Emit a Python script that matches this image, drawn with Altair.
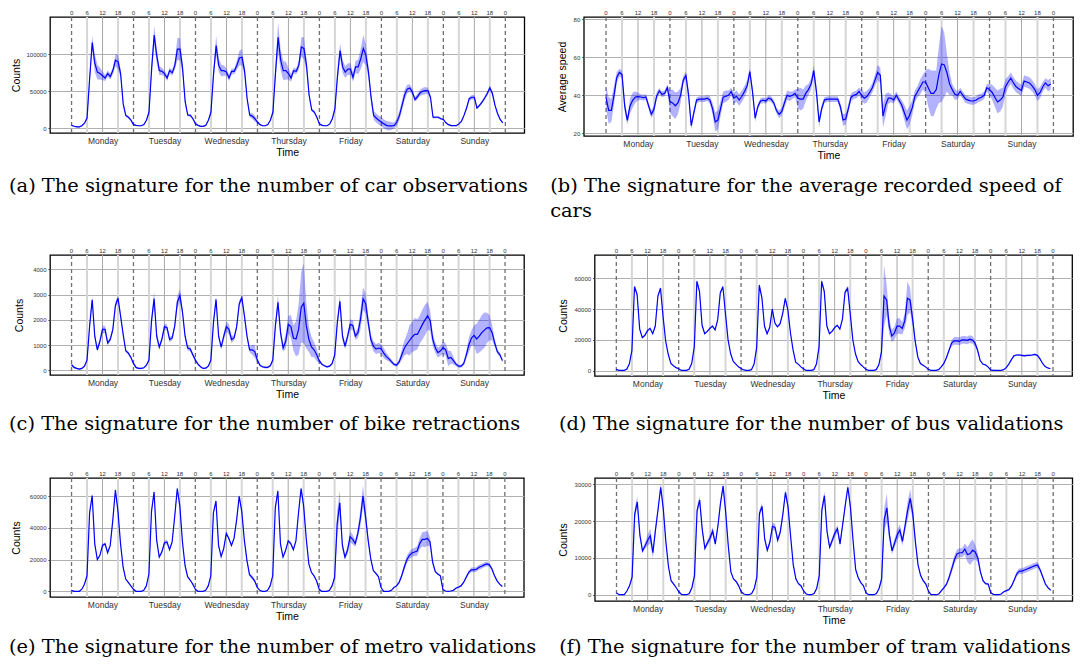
import altair as alt
import pandas as pd

DAYS = ["Monday", "Tuesday", "Wednesday", "Thursday", "Friday", "Saturday", "Sunday"]
HOURS = list(range(168))
HOUR_TICKS = list(range(0, 169, 6))
HOUR_LABELS = [str(h % 24) for h in HOUR_TICKS]
DAY_CENTERS = [12 + 24 * d for d in range(7)]
DAY_BOUNDS = [24 * d for d in range(8)]
LIGHT_HOURS = [24 * d + h for d in range(7) for h in (6, 18)]
MID_HOURS = [24 * d + 12 for d in range(7)]

car_counts = [
    4000, 2800, 2000, 2000, 3500, 7000, 14000, 67000, 116000, 88000, 76000, 74000, 71000, 68000, 74000, 70000, 78000, 92000, 90000, 74000, 33000, 17500, 15000, 11000,
    5000, 4000, 3500, 3500, 5000, 11000, 22000, 80000, 126000, 98000, 78000, 77000, 74000, 68000, 78000, 75000, 85000, 107000, 107000, 81000, 36000, 18000, 17500, 13000,
    6000, 4000, 2700, 2700, 4000, 11000, 22000, 74000, 112000, 85000, 78000, 78000, 76000, 68000, 77000, 77000, 85000, 95000, 96000, 78000, 40000, 18000, 16500, 13000,
    8500, 5000, 3500, 3500, 5000, 11000, 22000, 76000, 123000, 92000, 78000, 78000, 74000, 68000, 78000, 77000, 85000, 110000, 108000, 85000, 45000, 25000, 22000, 15000,
    6000, 4000, 3500, 3500, 6000, 13000, 26500, 71000, 105000, 83000, 76000, 80000, 80000, 69000, 83000, 83000, 94000, 108000, 99000, 76000, 42000, 17500, 14000, 11000,
    8500, 6000, 4000, 3200, 3200, 4000, 8500, 17500, 31000, 45000, 53000, 54500, 49000, 39000, 43000, 48000, 50000, 51000, 51000, 42000, 15000, 15000, 15000, 13000,
    12000, 7500, 5000, 3600, 3600, 3600, 6000, 9500, 17500, 27500, 40000, 42000, 42000, 27500, 31000, 35500, 41000, 47000, 54500, 47000, 31000, 20000, 12000, 7500,
]
car_band = [
    800, 800, 800, 800, 800, 1000, 2000, 6000, 9000, 12000, 10000, 8000, 6000, 4000, 4000, 4000, 5000, 8000, 10000, 6000, 3000, 2000, 1500, 1500,
    1000, 800, 800, 800, 800, 1000, 3000, 8000, 13000, 10000, 6000, 5000, 4000, 4000, 4000, 4000, 6000, 15000, 15000, 8000, 3000, 2000, 1500, 1500,
    1500, 800, 800, 800, 800, 1000, 3000, 8000, 13000, 9000, 8000, 7000, 5000, 4000, 4000, 4000, 6000, 10000, 11000, 6000, 3000, 3000, 4000, 4000,
    2000, 1000, 800, 800, 800, 1000, 3000, 10000, 20000, 14000, 13000, 12000, 8000, 5000, 4000, 4000, 6000, 13000, 15000, 8000, 3000, 2000, 2000, 1500,
    1000, 800, 800, 800, 800, 1000, 3000, 9000, 10000, 9000, 8000, 8000, 8000, 6000, 8000, 10000, 14000, 18000, 14000, 8000, 6000, 6000, 6000, 6000,
    6000, 6000, 6000, 6000, 5000, 4000, 5000, 6000, 7000, 7000, 6000, 5000, 4000, 3000, 4000, 4000, 5000, 5000, 4000, 3000, 2000, 1500, 1500, 1500,
    1500, 1000, 800, 800, 800, 800, 1000, 1000, 1500, 2000, 2500, 3000, 3000, 2000, 2000, 2000, 2500, 3000, 3500, 3000, 2000, 1500, 1000, 1000,
]

speed_values = [
    38.8, 32.1, 32.1, 40, 49.3, 52, 51, 34.4, 26.8, 34.4, 37.4, 39.1, 39.3, 39.1, 38.8, 39.1, 34.4, 30, 32.6, 39.6, 42.3, 40.5, 41, 44,
    36.7, 36, 34.5, 36, 40, 48, 50.5, 40, 24, 31, 37.5, 38, 38, 38, 38.5, 37.5, 33, 26, 27, 33, 39, 39.5, 40, 42,
    38.5, 39.5, 37.5, 39.5, 42, 45, 52.5, 42, 28, 34, 37, 37.5, 37, 38.5, 38, 36, 32, 30, 31.5, 36, 40, 39.5, 40, 41,
    38.5, 38, 38, 41, 43, 46, 53, 42, 26, 33, 37.5, 38, 38, 38, 38, 38, 34, 27, 27.5, 33, 39, 40, 40.5, 42,
    40, 38.5, 39.5, 41.5, 44, 48, 52, 50.5, 29, 35, 38.5, 38.5, 37.5, 40, 37.5, 35, 31, 27, 29.5, 33.5, 39.5, 42, 44.5, 47,
    47, 44, 41, 41, 43, 51, 56.5, 56, 52, 46, 43, 40.5, 40, 42, 40, 38, 37.5, 37, 37, 37.5, 38.5, 39, 40, 44,
    43, 41.5, 39, 36.5, 37.5, 39, 44.5, 47, 49, 46.5, 44.5, 43.5, 42.5, 47.5, 47, 46.5, 45, 43, 40, 41.5, 44.5, 46.5, 45, 46,
]
speed_band = [
    6, 7, 6, 5, 3, 2, 2, 3, 2, 4, 4, 3, 2, 1.5, 1.5, 1.5, 1.5, 2, 2, 2, 1.5, 1.5, 1.5, 1.5,
    6, 7, 7, 6, 4, 2, 2, 3, 2, 2, 1.5, 1.5, 1.5, 1.5, 1.5, 2, 3, 5, 5, 4, 3, 3, 2.5, 2,
    3, 3, 3, 3, 3, 3, 2, 2.5, 2, 1.5, 1.5, 1.5, 1.5, 1.5, 1.5, 1.5, 1.5, 2, 2, 2.5, 2.5, 2.5, 2, 2,
    5, 6, 5, 4, 3, 3, 3, 3, 3, 2, 1.5, 1.5, 1.5, 1.5, 1.5, 1.5, 2, 3, 3, 2.5, 2, 2, 2, 2,
    3, 3, 3, 2.5, 2.5, 3, 4, 4, 6, 6, 3, 2, 2, 2, 2, 2.5, 4, 5, 5, 4, 3, 3, 4, 4,
    6, 10, 12, 12, 10, 15, 20, 17, 10, 6, 3, 3, 2, 2, 2, 2, 2, 2, 2, 2, 2, 2, 2, 2,
    3, 4, 5, 6, 6, 5, 4, 3, 3, 3, 3, 3, 3, 3, 3, 3, 3, 3, 3, 3, 2.5, 2.5, 3, 3,
]

bike_counts = [
    215, 110, 70, 40, 70, 160, 400, 1750, 2800, 1350, 810, 1150, 1620, 1620, 1080, 1220, 1620, 2570, 2860, 2160, 1420, 770, 680, 510,
    270, 110, 70, 70, 95, 200, 400, 1960, 2840, 1350, 920, 1220, 1730, 1690, 1220, 1280, 1760, 2700, 2970, 2300, 1350, 880, 840, 610,
    400, 240, 135, 70, 80, 160, 400, 1890, 2810, 1350, 920, 1350, 1730, 1620, 1220, 1280, 1730, 2640, 2880, 2160, 1350, 810, 810, 740,
    400, 200, 135, 110, 110, 175, 400, 1760, 2700, 1490, 880, 1150, 1820, 1730, 1280, 1240, 1620, 2500, 2660, 1760, 1220, 920, 810, 610,
    380, 240, 175, 135, 160, 270, 610, 1890, 2740, 1350, 950, 1350, 1820, 1780, 1350, 1490, 2030, 2840, 2640, 1890, 1220, 950, 840, 880,
    840, 680, 540, 450, 340, 230, 200, 340, 610, 880, 1040, 1180, 1320, 1420, 1420, 1620, 1820, 2000, 2160, 1960, 1220, 880, 700, 770,
    900, 810, 470, 510, 380, 240, 160, 160, 270, 610, 1010, 1280, 1380, 1240, 1350, 1490, 1590, 1680, 1690, 1490, 1080, 740, 610, 380,
]
bike_band = [
    60, 40, 30, 30, 30, 40, 60, 100, 120, 100, 80, 100, 150, 150, 100, 80, 100, 120, 120, 100, 80, 60, 60, 50,
    60, 40, 30, 30, 30, 40, 60, 150, 300, 150, 100, 100, 120, 120, 100, 100, 120, 250, 250, 150, 100, 100, 100, 80,
    60, 40, 30, 30, 30, 40, 60, 100, 120, 100, 100, 150, 200, 200, 150, 100, 100, 120, 120, 100, 80, 100, 200, 250,
    80, 50, 40, 40, 40, 40, 60, 150, 300, 200, 150, 300, 350, 450, 500, 700, 1000, 1400, 1600, 900, 500, 400, 300, 250,
    80, 50, 40, 40, 40, 50, 80, 150, 250, 150, 120, 150, 200, 200, 150, 200, 400, 450, 400, 250, 200, 200, 200, 200,
    200, 200, 150, 100, 80, 60, 60, 100, 200, 300, 400, 600, 600, 650, 600, 550, 600, 600, 550, 400, 250, 200, 200, 200,
    250, 250, 300, 250, 150, 80, 60, 60, 80, 150, 300, 300, 400, 600, 650, 700, 700, 600, 500, 300, 150, 100, 80, 60,
]

bus_counts = [
    900, 200, 200, 200, 900, 4300, 13000, 54500, 49500, 27000, 21500, 23000, 26000, 27500, 24000, 29000, 48500, 53500, 35000, 19000, 10500, 4800, 3200, 2000,
    1300, 200, 200, 200, 900, 4700, 15500, 58000, 51500, 29500, 24000, 25500, 27500, 29000, 26500, 33000, 50500, 54500, 37000, 20000, 11000, 6000, 4300, 2500,
    1500, 500, 200, 200, 700, 4300, 15000, 55500, 47500, 29000, 24000, 28000, 40000, 31000, 28500, 30500, 37000, 47000, 39500, 24500, 13500, 5500, 4300, 2500,
    1300, 200, 200, 200, 700, 4300, 15500, 58000, 51500, 29000, 24000, 25500, 28000, 29500, 27000, 33500, 51000, 53500, 37000, 20000, 11000, 6000, 4000, 2500,
    900, 200, 200, 200, 700, 3800, 12000, 48500, 46000, 29000, 22500, 24500, 29000, 29000, 27500, 32500, 47000, 46000, 33500, 19000, 8800, 4700, 3600, 2500,
    900, 200, 200, 200, 700, 2500, 4700, 8400, 13300, 17900, 19400, 19400, 19000, 20000, 20000, 19700, 20500, 20000, 17900, 13300, 6600, 4300, 3800, 2500,
    500, 200, 200, 200, 200, 700, 2000, 4300, 7200, 9700, 10200, 10200, 10000, 9700, 10000, 10000, 10200, 10600, 10000, 7700, 4700, 2700, 1800, 1300,
]
bus_band = [
    200, 100, 100, 100, 200, 300, 600, 1500, 1500, 800, 600, 600, 800, 800, 600, 800, 1200, 1200, 800, 500, 400, 300, 200, 200,
    200, 100, 100, 100, 200, 300, 600, 1500, 1500, 800, 600, 600, 800, 800, 600, 800, 1200, 1200, 800, 500, 400, 300, 200, 200,
    200, 100, 100, 100, 200, 300, 600, 1500, 1500, 800, 600, 600, 800, 800, 600, 800, 1200, 1200, 800, 500, 400, 300, 200, 200,
    200, 100, 100, 100, 200, 300, 600, 1500, 1500, 800, 600, 600, 800, 800, 600, 800, 1500, 1500, 800, 500, 400, 300, 200, 200,
    200, 100, 100, 100, 200, 400, 2000, 20000, 10000, 5000, 4000, 4000, 5000, 5000, 4000, 5000, 11000, 8000, 4000, 2000, 800, 400, 300, 200,
    200, 100, 100, 100, 200, 300, 500, 800, 1200, 2000, 2500, 2500, 2500, 2500, 2500, 2500, 2500, 2500, 2000, 1200, 600, 400, 300, 200,
    100, 100, 100, 100, 100, 200, 300, 400, 500, 600, 600, 600, 600, 600, 600, 600, 600, 600, 500, 400, 300, 200, 200, 100,
]

metro_counts = [
    600, 0, 0, 0, 1300, 4500, 9800, 49500, 60500, 30000, 20000, 22700, 29000, 30000, 24400, 29000, 45000, 64000, 50500, 30000, 15200, 7700, 5600, 3400,
    1300, 0, 0, 0, 600, 3400, 10900, 50500, 62700, 32300, 21600, 24800, 30600, 31200, 26300, 31200, 47300, 64900, 53700, 31200, 16300, 9200, 7100, 4500,
    1300, 0, 0, 0, 600, 3400, 9800, 49500, 57000, 29000, 22000, 27000, 36600, 33400, 29000, 33400, 45000, 60000, 50500, 32300, 19500, 10500, 8800, 6600,
    2400, 600, 0, 0, 600, 3400, 9800, 52700, 63400, 30000, 21600, 25900, 31900, 30200, 26300, 31900, 49500, 64900, 53700, 33400, 17300, 12000, 9800, 6600,
    1300, 0, 0, 0, 600, 3400, 8800, 43000, 55900, 29100, 21600, 25900, 34500, 32800, 30200, 36600, 46300, 60200, 47300, 32300, 20600, 13100, 11300, 9200,
    2400, 0, 0, 0, 600, 2400, 3400, 5600, 9800, 15200, 20000, 22700, 24200, 24800, 25500, 30200, 32800, 32800, 33400, 31200, 18400, 12600, 10900, 9800,
    1100, 200, 0, 200, 600, 1900, 2600, 3400, 5600, 8800, 12000, 13500, 13500, 13900, 15200, 15800, 16700, 17300, 16700, 14100, 9800, 6600, 4500, 3000,
]
metro_band = [
    300, 100, 100, 100, 200, 300, 500, 1200, 1200, 800, 600, 600, 1000, 1000, 800, 800, 1000, 1200, 1000, 800, 600, 400, 300, 300,
    300, 100, 100, 100, 200, 300, 500, 1500, 1500, 1000, 800, 1000, 1500, 1500, 1000, 1000, 1200, 1500, 1200, 800, 600, 500, 400, 300,
    300, 100, 100, 100, 200, 300, 500, 1200, 1200, 800, 600, 800, 1000, 1000, 800, 800, 1000, 1200, 1000, 800, 800, 1000, 1200, 1000,
    400, 100, 100, 100, 200, 300, 500, 1500, 1500, 800, 600, 800, 1000, 1000, 800, 800, 1000, 1500, 1200, 800, 600, 500, 400, 300,
    300, 100, 100, 100, 200, 400, 1500, 8000, 8000, 2500, 1500, 2500, 3500, 3000, 2000, 3000, 5000, 7000, 4000, 2000, 1000, 800, 800, 800,
    400, 100, 100, 100, 200, 300, 500, 1000, 1500, 2000, 2500, 2500, 2500, 2500, 3000, 3500, 4500, 5000, 4500, 3000, 1500, 800, 600, 500,
    300, 100, 100, 100, 200, 300, 400, 500, 700, 900, 1200, 1500, 1500, 1500, 1500, 1500, 1500, 1500, 1200, 900, 600, 400, 300, 300,
]

tram_counts = [
    500, 0, 0, 0, 1000, 2400, 4800, 21900, 25200, 16200, 11900, 13300, 14800, 16000, 11400, 17600, 23300, 29200, 23300, 14300, 7600, 3800, 2900, 1900,
    800, 100, 0, 0, 300, 1900, 5200, 22900, 25700, 17600, 12600, 14100, 15400, 17300, 13800, 18600, 24800, 29500, 22400, 13300, 6200, 4300, 3600, 2400,
    800, 200, 0, 0, 300, 1700, 4800, 22100, 24000, 15200, 12100, 14300, 18600, 18300, 14800, 17000, 21900, 27800, 23800, 15700, 8100, 4300, 3000, 2400,
    1000, 200, 0, 0, 300, 1700, 5200, 23000, 26900, 17100, 12900, 14800, 16700, 17900, 13800, 19000, 24300, 29200, 23800, 14800, 6900, 4600, 3300, 2400,
    500, 0, 0, 0, 300, 1700, 4300, 20500, 23600, 16200, 11900, 14100, 16200, 17600, 14500, 18600, 22900, 26200, 21900, 14300, 8100, 5200, 3800, 2900,
    1000, 0, 0, 0, 200, 1100, 1900, 2900, 4800, 7100, 9500, 11100, 11400, 11400, 12400, 10900, 11100, 12100, 11600, 10000, 6200, 3800, 3000, 2900,
    500, 100, 0, 0, 200, 800, 1100, 1400, 2400, 4000, 5700, 6400, 6400, 6700, 7000, 7300, 7600, 7900, 8100, 6700, 4800, 2900, 1900, 1200,
]
tram_band = [
    200, 50, 50, 50, 100, 200, 400, 1500, 1500, 800, 600, 800, 1500, 2000, 1500, 1000, 800, 1000, 800, 500, 300, 200, 200, 150,
    200, 50, 50, 50, 100, 200, 400, 1200, 1200, 800, 600, 800, 1000, 1000, 800, 800, 800, 800, 800, 500, 300, 200, 200, 150,
    200, 50, 50, 50, 100, 200, 400, 1000, 1000, 800, 600, 800, 1000, 1000, 800, 800, 800, 800, 800, 500, 300, 300, 300, 300,
    200, 50, 50, 50, 100, 200, 400, 1200, 1200, 800, 600, 800, 1000, 1000, 800, 800, 800, 800, 800, 500, 300, 200, 200, 150,
    200, 50, 50, 50, 100, 200, 800, 3000, 4000, 1500, 1000, 1200, 1500, 1500, 1200, 1500, 2500, 2500, 1500, 800, 400, 300, 200, 200,
    200, 50, 50, 50, 100, 200, 300, 500, 700, 1000, 1200, 1200, 1200, 1200, 1500, 2000, 3000, 3000, 2000, 1200, 600, 300, 200, 200,
    150, 50, 50, 50, 100, 100, 200, 300, 400, 500, 700, 800, 800, 800, 800, 800, 800, 800, 800, 600, 400, 300, 200, 150,
]

SANS = "Liberation Sans"
SERIF = "DejaVu Serif"
XS = alt.Scale(domain=[-8.35, 175.35], nice=False, zero=False)
DAY_EXPR = "['" + "','".join(DAYS) + "'][floor(datum.value / 24)]"

BOTTOM_AXIS = alt.Axis(values=DAY_CENTERS, labelExpr=DAY_EXPR, grid=False, domain=False,
                       ticks=False, labelFontSize=8.5, labelPadding=3, labelColor="#333333",
                       labelFont=SANS, labelOverlap=False, labelFlush=False, title="Time",
                       titleFont=SANS, titleFontSize=10.5, titleFontWeight="normal",
                       titleColor="black", titlePadding=3)


def panel(values, band, ydom, yticks, ytitle, w, h, caption, cap_x, title_pad, extra=0):
    df = pd.DataFrame({
        "hour": HOURS,
        "value": values,
        "lo": [v - b for v, b in zip(values, band)],
        "hi": [v + b for v, b in zip(values, band)],
    })
    ys = alt.Scale(domain=ydom, nice=False, zero=False)
    y_axis = alt.Axis(values=yticks, format="d", grid=True, gridColor="#b0b0b0", gridWidth=1,
                      domain=False, ticks=True, tickSize=2, tickColor="#333333",
                      labelFontSize=6, labelPadding=2, labelColor="#333333", labelFont=SANS,
                      labelOverlap=False, title=ytitle, titleFont=SANS, titleFontSize=10.5,
                      titleFontWeight="normal", titleColor="black", titlePadding=title_pad)
    xenc = alt.X("hour:Q", scale=XS, axis=BOTTOM_AXIS)
    light = alt.Chart(pd.DataFrame({"hour": LIGHT_HOURS})).mark_rule(
        color="#d6d6d6", strokeWidth=2).encode(x=xenc, y=alt.value(0), y2=alt.value(h))
    mid = alt.Chart(pd.DataFrame({"hour": MID_HOURS})).mark_rule(
        color="#a8a8a8", strokeWidth=1).encode(x=xenc, y=alt.value(0), y2=alt.value(h))
    dash = alt.Chart(pd.DataFrame({"hour": DAY_BOUNDS})).mark_rule(
        color="#707070", strokeWidth=1.3, strokeDash=[4, 3]).encode(
        x=xenc, y=alt.value(0), y2=alt.value(h))
    area = alt.Chart(df).mark_area(color="#0000ff", opacity=0.3, clip=True).encode(
        x=xenc, y=alt.Y("lo:Q", scale=ys, axis=y_axis), y2="hi:Q")
    line = alt.Chart(df).mark_line(color="#0000ff", strokeWidth=1.2, clip=True).encode(
        x=xenc, y=alt.Y("value:Q", scale=ys, axis=y_axis))
    toplab = alt.Chart(pd.DataFrame({"hour": HOUR_TICKS, "label": HOUR_LABELS})).mark_text(
        font=SANS, fontSize=6, color="#333333", baseline="middle", align="center").encode(
        x=xenc, y=alt.value(-4.5), text="label:N")
    cap = alt.Chart(pd.DataFrame({"caption": [caption]})).mark_text(
        font=SERIF, fontSize=19.4, color="black", baseline="top", align="left",
        lineBreak="\n", lineHeight=25).encode(
        x=alt.value(cap_x), y=alt.value(160), text="caption:N")
    layers = [light, mid, dash, area, line, toplab, cap]
    if extra:
        # invisible spacer text that only reserves room below the caption
        layers.append(alt.Chart(pd.DataFrame({"pad": ["x"]})).mark_text(
            font=SERIF, fontSize=19.4, opacity=0, baseline="top", align="left").encode(
            x=alt.value(0), y=alt.value(160 + extra), text="pad:N"))
    return alt.layer(*layers).properties(width=w, height=h)


pa = panel(car_counts, car_band, [-6310, 150450], [0, 50000, 100000], "Counts", 474.3, 116,
           "(a) The signature for the number of car observations", -41, 4.5)
pb = panel(speed_values, speed_band, [18.6, 81.2], [20, 40, 60, 80], "Average speed", 489.2, 119,
           "(b) The signature for the average recorded speed of\ncars", -33.6, 5.4)
pc = panel(bike_counts, bike_band, [-191, 4575], [0, 1000, 2000, 3000, 4000], "Counts", 474, 120,
           "(c) The signature for the number of bike retractions", -41, 8, extra=10.5)
pd_ = panel(bus_counts, bus_band, [-3430, 75130], [0, 20000, 40000, 60000], "Counts", 477.5, 121,
            "(d) The signature for the number of bus validations", -35.6, 5.6)
pe = panel(metro_counts, metro_band, [-3610, 71600], [0, 20000, 40000, 60000], "Counts", 473.8, 119,
           "(e) The signature for the number of metro validations", -41, 7.5)
pf = panel(tram_counts, tram_band, [-1710, 31710], [0, 10000, 20000, 30000], "Counts", 477.5, 123,
           "(f) The signature for the number of tram validations", -35.6, 6)

row1 = alt.hconcat(pa, pb, spacing=58.8, bounds="flush")
row2 = alt.hconcat(pc, pd_, spacing=70.6, bounds="flush")
row3 = alt.hconcat(pe, pf, spacing=70.8, bounds="flush")
chart = alt.concat(row1, row2, row3, columns=1, spacing=24, align="none").properties(
    padding={"left": 0, "top": 0, "right": 2, "bottom": 2}
).configure_view(stroke="black", strokeWidth=1.3)

chart.save("out.html", embed_options={"renderer": "svg", "actions": False})
